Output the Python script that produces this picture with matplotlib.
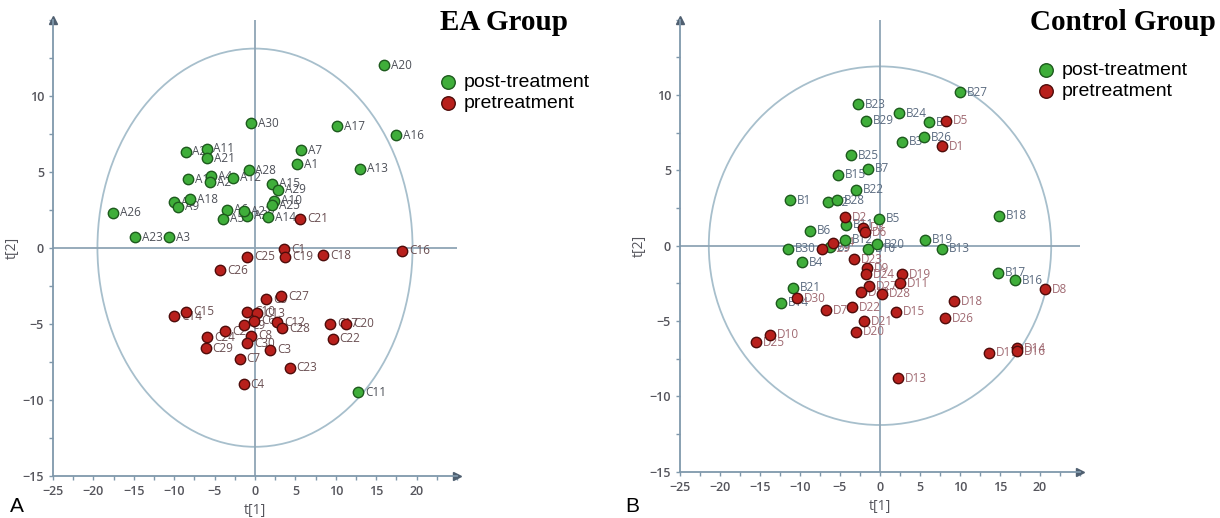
"""
Score plots (t[1] / t[2]) for the EA group and the control group
"""

import matplotlib.pyplot as plt
from matplotlib.patches import Ellipse
from matplotlib.ticker import MultipleLocator

# ---- panel A : EA group ----
a_post_names = ["A30", "A24", "A11", "A21", "A28", "A19", "A4", "A2", "A12", "A15",
                "A29", "A10", "A25", "A14", "A27", "A22", "A6", "A5", "A18", "A8",
                "A9", "A26", "A23", "A3", "A7", "A1", "A17", "A16", "A13", "A20", "C11"]
a_post_x = [-0.5, -8.6, -6.0, -5.9, -0.8, -8.3, -5.5, -5.6, -2.7, 2.1,
            2.9, 2.3, 2.1, 1.6, -1.0, -1.3, -3.5, -4.0, -8.0, -10.0,
            -9.5, -17.6, -14.9, -10.6, 5.7, 5.2, 10.2, 17.5, 13.0, 16.0, 12.8]
a_post_y = [8.2, 6.3, 6.5, 5.9, 5.1, 4.5, 4.7, 4.3, 4.6, 4.2,
            3.8, 3.1, 2.8, 2.0, 2.1, 2.4, 2.5, 1.9, 3.2, 3.0,
            2.7, 2.3, 0.7, 0.7, 6.4, 5.5, 8.0, 7.4, 5.2, 12.0, -9.5]

a_pre_names = ["C21", "C1", "C19", "C25", "C18", "C16", "C26", "C27", "C5", "C15",
               "C14", "C10", "C13", "C6", "C9", "C12", "C28", "C2", "C24", "C29",
               "C8", "C30", "C3", "C7", "C23", "C4", "C17", "C20", "C22"]
a_pre_x = [5.6, 3.6, 3.7, -1.0, 8.4, 18.2, -4.3, 3.2, 1.4, -8.5,
           -10.0, -1.0, 0.3, -0.1, -1.3, 2.7, 3.4, -3.7, -5.9, -6.1,
           -0.5, -1.0, 1.9, -1.9, 4.3, -1.4, 9.3, 11.3, 9.6]
a_pre_y = [1.9, -0.1, -0.6, -0.6, -0.5, -0.2, -1.5, -3.2, -3.4, -4.2,
           -4.5, -4.2, -4.3, -4.8, -5.1, -4.9, -5.3, -5.5, -5.9, -6.6,
           -5.8, -6.3, -6.7, -7.3, -7.9, -9.0, -5.0, -5.0, -6.0]

# ---- panel B : control group ----
b_post_names = ["B23", "B29", "B24", "B3", "B25", "B7", "B15", "B22", "B1", "B2",
                "B28", "B11", "B5", "B6", "B12", "B9", "B30", "B10", "B20", "B19",
                "B13", "B18", "B27", "B8", "B26", "B4", "B21", "B14", "B17", "B16"]
b_post_x = [-2.7, -1.8, 2.4, 2.7, -3.6, -1.5, -5.2, -3.0, -11.3, -6.5,
            -5.4, -4.3, -0.1, -8.8, -4.4, -6.3, -11.5, -1.5, -0.4, 5.6,
            7.8, 14.9, 10.0, 6.1, 5.5, -9.7, -10.9, -12.4, 14.8, 16.9]
b_post_y = [9.4, 8.3, 8.8, 6.9, 6.0, 5.1, 4.7, 3.7, 3.0, 2.9,
            3.0, 1.4, 1.8, 1.0, 0.4, -0.1, -0.2, -0.2, 0.1, 0.4,
            -0.2, 2.0, 10.2, 8.2, 7.2, -1.1, -2.8, -3.8, -1.8, -2.3]

b_pre_names = ["D2", "D3", "D6", "D4", "D29", "D5", "D1", "D23", "D9", "D24",
               "D19", "D11", "D27", "D12", "D28", "D15", "D30", "D7", "D22", "D21",
               "D20", "D10", "D25", "D13", "D8", "D18", "D26", "D17", "D14", "D16"]
b_pre_x = [-4.4, -2.1, -1.9, -5.9, -7.3, 8.2, 7.7, -3.3, -1.6, -1.7,
           2.8, 2.5, -1.4, -2.4, 0.3, 2.0, -10.4, -6.7, -3.5, -2.0,
           -3.0, -13.8, -15.5, 2.2, 20.6, 9.2, 8.1, 13.6, 17.1, 17.1]
b_pre_y = [1.9, 1.2, 0.9, 0.2, -0.2, 8.3, 6.6, -0.9, -1.5, -1.9,
           -1.9, -2.5, -2.7, -3.1, -3.2, -4.4, -3.5, -4.3, -4.1, -5.0,
           -5.7, -5.9, -6.4, -8.8, -2.9, -3.7, -4.8, -7.1, -6.8, -7.0]

GREEN, GREEN_EDGE = "#3fae3a", "#1d5a1d"
RED, RED_EDGE = "#b8201c", "#4f0c0a"
AXIS_COL = "#7f98ab"
TEXT_COL = "#55555c"

plt.rcParams["font.family"] = ["Open Sans", "DejaVu Sans"]
fig = plt.figure(figsize=(12.2, 5.18), dpi=100)


def draw_panel(rect, post, pre, ellipse_wh, title, title_pos, leg_pos, letter, letter_x,
               post_lab_col, pre_lab_col):
    ax = fig.add_axes(rect)
    ax.set_xlim(-25, 25)
    ax.set_ylim(-15, 15)

    # Hotelling ellipse + zero lines
    ax.add_patch(Ellipse((0, 0), ellipse_wh[0], ellipse_wh[1], fill=False,
                         edgecolor="#a7bfcc", lw=1.3, zorder=1))
    ax.axhline(0, color="#8fa5b5", lw=1.3, zorder=1)
    ax.axvline(0, color="#8fa5b5", lw=1.3, zorder=1)

    for (names, xs, ys), col, edge, lcol, lab in [
            (post, GREEN, GREEN_EDGE, post_lab_col, "post-treatment"),
            (pre, RED, RED_EDGE, pre_lab_col, "pretreatment")]:
        ax.scatter(xs, ys, s=56, color=col, edgecolors=edge, linewidths=1.0,
                   zorder=3, label=lab)
        for n, x, y in zip(names, xs, ys):
            ax.annotate(n, (x, y), xytext=(5, 0), textcoords="offset points",
                        va="center", ha="left", fontsize=8.5, color=lcol, zorder=2)

    # axes with arrows
    for s in ["top", "right"]:
        ax.spines[s].set_visible(False)
    for s in ["left", "bottom"]:
        ax.spines[s].set_color(AXIS_COL)
        ax.spines[s].set_linewidth(1.3)
    ax.plot(1, 0, ">", color="#4f5f70", markersize=6, transform=ax.transAxes, clip_on=False)
    ax.plot(0, 1, "^", color="#4f5f70", markersize=6, transform=ax.transAxes, clip_on=False)

    ax.set_xticks(range(-25, 21, 5))
    ax.set_yticks(range(-15, 11, 5))
    ax.xaxis.set_minor_locator(MultipleLocator(2.5))
    ax.yaxis.set_minor_locator(MultipleLocator(2.5))
    ax.tick_params(which="both", colors=AXIS_COL, labelcolor=TEXT_COL, labelsize=9,
                   length=3, width=1)
    for t in ax.get_xticklabels() + ax.get_yticklabels():
        t.set_fontweight("semibold")
    ax.set_xlabel("t[1]", fontsize=10, color=TEXT_COL, labelpad=4)
    ax.set_ylabel("t[2]", fontsize=10, color=TEXT_COL, labelpad=2)
    ax.patch.set_alpha(0)

    fig.text(title_pos[0], title_pos[1], title, family="Liberation Serif",
             fontweight="bold", fontsize=21, va="top", ha="left")
    ax.legend(loc="upper left", bbox_to_anchor=leg_pos, bbox_transform=fig.transFigure,
              frameon=False, prop={"family": "Liberation Sans", "size": 14},
              markerscale=1.3, handlelength=0.7, handletextpad=0.45,
              labelspacing=0.2, borderpad=0, borderaxespad=0)
    fig.text(letter_x, 0.012, letter, family="Liberation Sans", fontsize=15, ha="left")
    return ax


draw_panel([53 / 1220, 1 - 475.7 / 518, 404 / 1220, 456 / 518],
           (a_post_names, a_post_x, a_post_y), (a_pre_names, a_pre_x, a_pre_y),
           (39.0, 26.2), "EA Group", (440 / 1220, 1 - 9 / 518), (441 / 1220, 1 - 73 / 518),
           "A", 0.008, "#4d5058", "#6a4f52")

draw_panel([680 / 1220, 1 - 471.7 / 518, 400 / 1220, 452 / 518],
           (b_post_names, b_post_x, b_post_y), (b_pre_names, b_pre_x, b_pre_y),
           (42.8, 23.8), "Control Group", (1030 / 1220, 1 - 9 / 518), (1039 / 1220, 1 - 61 / 518),
           "B", 625 / 1220, "#5b6b80", "#a06a72")

fig.savefig("out.png", dpi=100)
